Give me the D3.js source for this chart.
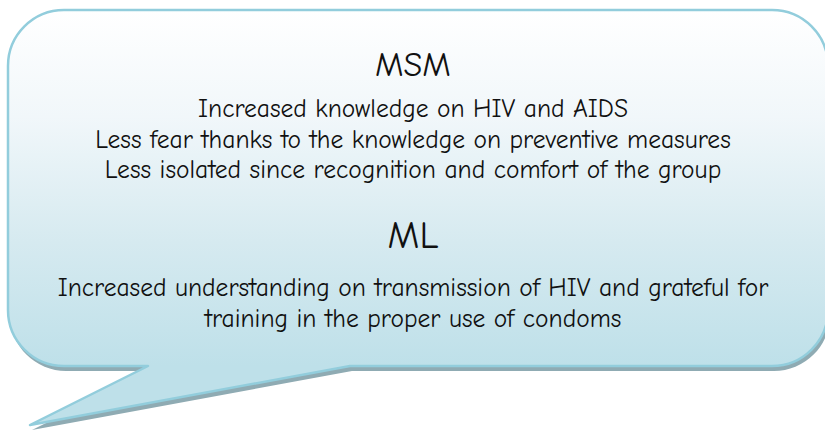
<!DOCTYPE html>
<html>
<head>
<meta charset="utf-8">
<script src="https://cdn.jsdelivr.net/npm/d3@7"></script>
<style>
  html, body { margin: 0; padding: 0; background: #ffffff; overflow: hidden; }
  text { font-family: "Comic Sans MS", "Comic Neue", "DejaVu Sans", sans-serif; fill: #111; }
</style>
</head>
<body>
<div id="bubble"></div>
<script>
// Text content of the callout
const titles = ["MSM", "ML"];
const msmLines = [
    "Increased knowledge on HIV and AIDS",
    "Less fear thanks to the knowledge on preventive measures",
    "Less isolated since recognition and comfort of the group"
];
const mlLines = [
    "Increased understanding on transmission of HIV and grateful for",
    "training in the proper use of condoms"
];

function create_bubble(width, height) {
    d3.select("#bubble").select("svg").remove();

    const svg = d3.select("#bubble").append("svg")
        .attr("width", width)
        .attr("height", height);

    // Bubble body box + tail
    const box = { left: 8, top: 10, right: 828, bottom: 366, r: 56 };
    const tail = { from: 350, to: 148, tipX: 30, tipY: 425 };

    // Gradient fill (near white at top, pale blue at bottom)
    const defs = svg.append("defs");
    const grad = defs.append("linearGradient")
        .attr("id", "fillGrad")
        .attr("gradientUnits", "userSpaceOnUse")
        .attr("x1", 0).attr("y1", box.top)
        .attr("x2", 0).attr("y2", box.bottom);
    grad.append("stop").attr("offset", 0).attr("stop-color", "#ffffff");
    grad.append("stop").attr("offset", 0.3).attr("stop-color", "#f1f7fa");
    grad.append("stop").attr("offset", 0.65).attr("stop-color", "#d6eaf0");
    grad.append("stop").attr("offset", 1).attr("stop-color", "#bee0e9");

    function bubblePath() {
        const p = d3.path();
        const b = box;
        p.moveTo(b.left + b.r, b.top);
        p.lineTo(b.right - b.r, b.top);
        p.arcTo(b.right, b.top, b.right, b.top + b.r, b.r);
        p.lineTo(b.right, b.bottom - b.r);
        p.arcTo(b.right, b.bottom, b.right - b.r, b.bottom, b.r);
        p.lineTo(tail.from, b.bottom);
        p.lineTo(tail.tipX, tail.tipY);
        p.lineTo(tail.to, b.bottom);
        p.lineTo(b.left + b.r, b.bottom);
        p.arcTo(b.left, b.bottom, b.left, b.bottom - b.r, b.r);
        p.lineTo(b.left, b.top + b.r);
        p.arcTo(b.left, b.top, b.left + b.r, b.top, b.r);
        p.closePath();
        return p.toString();
    }

    // Drop shadow
    svg.append("path")
        .attr("d", bubblePath())
        .attr("transform", "translate(2,5)")
        .attr("fill", "#8fabb3");

    // Bubble
    svg.append("path")
        .attr("d", bubblePath())
        .attr("fill", "url(#fillGrad)")
        .attr("stroke", "#92cddc")
        .attr("stroke-width", 2.5)
        .attr("stroke-linejoin", "round");

    // Build rows: title then its lines
    const rows = [];
    rows.push({ text: titles[0], size: 34 });
    msmLines.forEach(t => rows.push({ text: t, size: 25.5 }));
    rows.push({ text: titles[1], size: 38 });
    mlLines.forEach(t => rows.push({ text: t, size: 25.5 }));

    // baselines for each row
    const baselines = [76, 117, 148, 178, 248, 296, 327];
    const cx = 413;

    svg.append("g")
        .selectAll("text")
        .data(rows)
        .enter().append("text")
        .attr("x", cx)
        .attr("y", (d, i) => baselines[i])
        .attr("text-anchor", "middle")
        .style("font-size", d => d.size + "px")
        .text(d => d.text);
}

create_bubble(825, 434);
</script>
</body>
</html>
